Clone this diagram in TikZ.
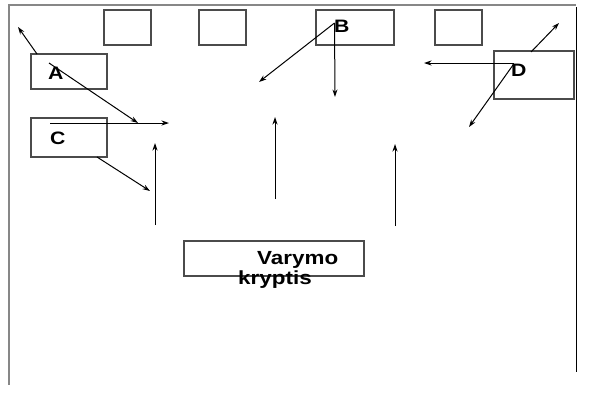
\documentclass[tikz,border=0pt]{standalone}
\usepackage{fontspec}
\setmainfont{Liberation Sans}
\newfontfamily\widefont[FakeStretch=1.18]{Liberation Sans}
\usetikzlibrary{arrows.meta}
\definecolor{framegray}{RGB}{135,135,135}
\definecolor{boxgray}{RGB}{75,75,75}
\tikzstyle{blk}=[draw=boxgray, line width=1.2pt, inner sep=0, fill=none]
\tikzstyle{sblk}=[blk, minimum width=47pt, minimum height=35pt]
\tikzstyle{lbl}=[anchor=base west, inner sep=0, font=\fontsize{18}{18}\selectfont\widefont\bfseries]
\tikzstyle{captxt}=[anchor=base west, inner sep=0, font=\fontsize{19}{19}\selectfont\widefont\bfseries]
\tikzstyle{arr}=[-{Stealth[length=7.5pt,width=5pt]}, line width=1pt, black]

\begin{document}
\begin{tikzpicture}[x=1pt,y=-1pt]
\useasboundingbox (0,0) rectangle (596,413);
% frame
\draw[framegray, line width=1.2pt] (8,5) -- (576,5);
\draw[framegray, line width=1.2pt] (9,5) -- (9,385);
\draw[black, line width=1pt] (576,7) -- (576,372);
% boxes
\node[sblk] (top1) at (127.5,27.5) {};
\node[sblk] (top2) at (222.5,27.5) {};
\node[blk, minimum width=78pt, minimum height=35pt] (bbox) at (355,27.5) {};
\node[sblk] (top4) at (458.5,27.5) {};
\node[blk, minimum width=76pt, minimum height=35pt] (abox) at (69,71.5) {};
\node[blk, minimum width=76pt, minimum height=39pt] (cbox) at (69,137.5) {};
\node[blk, minimum width=80pt, minimum height=48pt] (dbox) at (534,75) {};
\node[blk, minimum width=180pt, minimum height=35pt] (vbox) at (274,258.5) {};
% labels
\node[lbl] (la) at (48,79) {A};
\node[lbl] (lb) at (334,32) {B};
\node[lbl] (lc) at (50,144) {C};
\node[lbl] (ld) at (511,76) {D};
\node[captxt] (vtxt) at (257,264) {Varymo};
\node[captxt] (ktxt) at (238,284) {kryptis};
% arrow ends
\coordinate (aout) at (37,54);   \coordinate (aup) at (18,27);
\coordinate (ain) at (49,63);    \coordinate (amid) at (138,123);
\coordinate (hin) at (50,123);   \coordinate (hout) at (169,123);
\coordinate (cout) at (97,157);  \coordinate (cend) at (150,191);
\coordinate (v1s) at (155,225);  \coordinate (v1e) at (155,143);
\coordinate (v2s) at (275,199);  \coordinate (v2e) at (275,117);
\coordinate (v3s) at (395,226);  \coordinate (v3e) at (395,144);
\coordinate (bin) at (334.5,23); \coordinate (bend) at (259,82);
\coordinate (bdown) at (335,97);
\coordinate (din) at (514,63);   \coordinate (dleft) at (424,63);
\coordinate (dout) at (531,52);  \coordinate (dup) at (559,23);
\coordinate (dsw) at (513,65);   \coordinate (dend) at (469,127);
\path[arr]
  (aout) edge (aup)
  (ain) edge (amid)
  (hin) edge (hout)
  (cout) edge (cend)
  (v1s) edge (v1e)
  (v2s) edge (v2e)
  (v3s) edge (v3e)
  (bin) edge (bend)
  (bin) edge (bdown)
  (din) edge (dleft)
  (dout) edge (dup)
  (dsw) edge (dend);
\end{tikzpicture}
\end{document}
